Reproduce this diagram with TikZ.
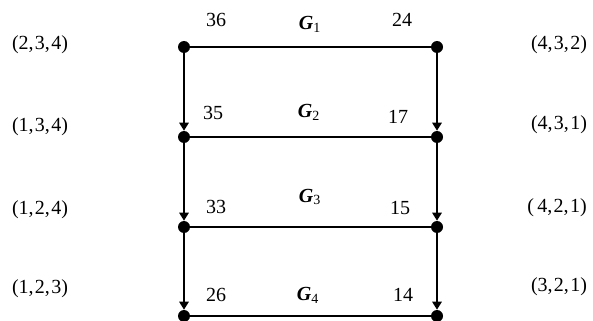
\documentclass[tikz,border=0pt]{standalone}
\usepackage{fontspec}
\setmainfont{Liberation Serif}
\usetikzlibrary{arrows.meta}

\begin{document}
\begin{tikzpicture}[
    x=0.75pt, y=-0.75pt,
    font=\fontsize{15}{18}\selectfont,
    dot/.style={circle, fill=black, inner sep=0pt, minimum size=9pt},
    edge/.style={line width=1.3pt, draw=black},
    arr/.style={-{Triangle[length=6pt, width=7pt]}, line width=1.3pt, draw=black},
    gname/.style={inner sep=0pt}
]
    \useasboundingbox (0,0) rectangle (593,321);

    % corner points of the four rows
    \foreach \i/\y in {1/47, 2/137, 3/227, 4/316} {
        \node[dot] (l\i) at (184,\y) {};
        \node[dot] (r\i) at (437,\y) {};
    }

    % triples at both sides
    \node (tl1) at (40,45) {(2,\kern1pt3,\kern1pt4)};
    \node (tl2) at (40,127) {(1,\kern1pt3,\kern1pt4)};
    \node (tl3) at (40,210) {(1,\kern1pt2,\kern1pt4)};
    \node (tl4) at (40,289) {(1,\kern1pt2,\kern1pt3)};
    \node (tr1) at (559,45) {(4,\kern1pt3,\kern1pt2)};
    \node (tr2) at (559,125) {(4,\kern1pt3,\kern1pt1)};
    \node (tr3) at (557,208) {(\,4,\kern1pt2,\kern1pt1)};
    \node (tr4) at (559,287) {(3,\kern1pt2,\kern1pt1)};

    % weights and group names
    \node (wl1) at (216,20) {36};
    \node (wl2) at (213,113) {35};
    \node (wl3) at (216,207) {33};
    \node (wl4) at (216,295) {26};
    \node (wr1) at (402,20) {24};
    \node (wr2) at (398,117) {17};
    \node (wr3) at (400,208) {15};
    \node (wr4) at (403,295) {14};
    \node[gname] (g1) at (310,24) {\textbf{\textit{G}}\textsubscript{1}};
    \node[gname] (g2) at (309,112) {\textbf{\textit{G}}\textsubscript{2}};
    \node[gname] (g3) at (310,197) {\textbf{\textit{G}}\textsubscript{3}};
    \node[gname] (g4) at (308,295) {\textbf{\textit{G}}\textsubscript{4}};

    \foreach \i in {1,...,4}
        \draw[edge] (l\i) -- (r\i);
    \foreach \a/\b in {1/2, 2/3, 3/4} {
        \draw[arr] (l\a) -- (l\b);
        \draw[arr] (r\a) -- (r\b);
    }
\end{tikzpicture}
\end{document}
